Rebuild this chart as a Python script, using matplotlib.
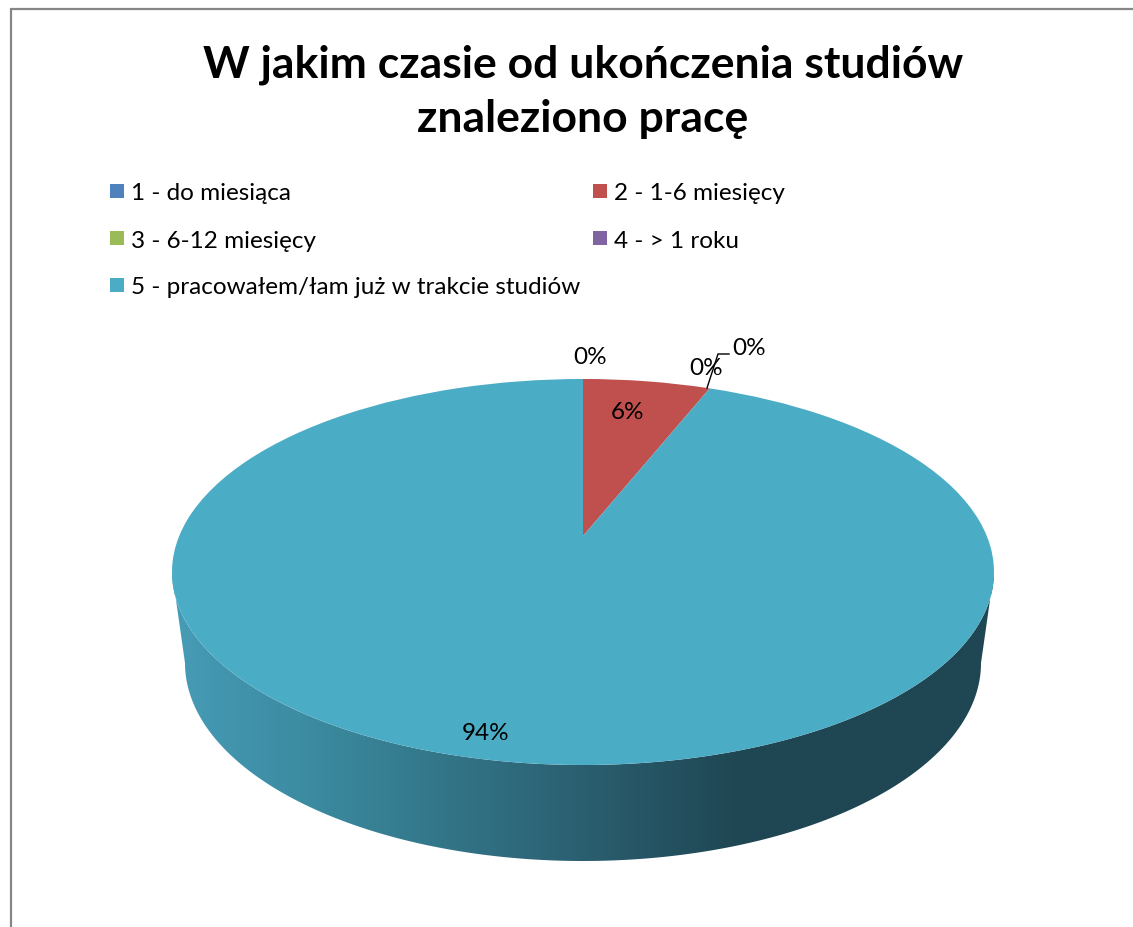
import numpy as np
import matplotlib
matplotlib.use("Agg")
import matplotlib.pyplot as plt
from matplotlib.colors import LinearSegmentedColormap
from matplotlib.patches import Polygon, Rectangle
from matplotlib.transforms import Transform

title = "W jakim czasie od ukończenia studiów\nznaleziono pracę"
categories = ["1 - do miesiąca", "2 - 1-6 miesięcy", "3 - 6-12 miesięcy",
              "4 - > 1 roku", "5 - pracowałem/łam już w trakcie studiów"]
values = [0, 6, 0, 0, 94]
colors = ["#4F81BD", "#C0504D", "#9BBB59", "#8064A2", "#4BACC6"]

plt.rcParams["font.family"] = ["Lato", "DejaVu Sans"]
W, H = 1133, 928
fig = plt.figure(figsize=(W / 100, H / 100), dpi=100, facecolor="white")
ax = fig.add_axes([0, 0, 1, 1])
ax.axis("off")

# perspective of the pie's top face
APEX_X, APEX_Y = 583.0, 537.0
PC = 0.1865
PA = 186.3
PD = 403.8


class Perspective(Transform):
    input_dims = output_dims = 2

    def transform_non_affine(self, xy):
        xy = np.asarray(xy, float)
        den = 1 + PC * xy[:, 1]
        return np.column_stack((APEX_X + PD * xy[:, 0] / den,
                                APEX_Y - PA * xy[:, 1] / den))


wedges, _ = ax.pie(values, colors=colors, startangle=90, counterclock=False,
                   radius=1, wedgeprops=dict(linewidth=0))
persp = Perspective() + ax.transData
for w in wedges:
    w.set_transform(persp)
    w.set_zorder(3)
ax.set_aspect("auto")
ax.set_xlim(0, W)
ax.set_ylim(H, 0)
ax.axis("off")

# side wall of the disc: gradient clipped to the rim band
theta = np.linspace(0, np.pi, 300)
top = np.column_stack((583 + 411 * np.cos(theta), 573 + 193 * np.sin(theta)))
bot = np.column_stack((583 + 398 * np.cos(theta), 664 + 198 * np.sin(theta)))
band = np.vstack((top, bot[::-1]))
stops = [(172, "#479CB6"), (260, "#3F90A8"), (300, "#3C8CA2"), (440, "#337689"),
         (590, "#2A5E6F"), (740, "#1F4653"), (994, "#1F4653")]
cmap = LinearSegmentedColormap.from_list(
    "side", [((x - 172) / (994 - 172), c) for x, c in stops])
im = ax.imshow(np.linspace(0, 1, 512)[None, :], extent=(172, 994, 870, 570),
               cmap=cmap, aspect="auto", interpolation="bilinear", zorder=2)
clip = Polygon(band, closed=True, transform=ax.transData, facecolor="none", edgecolor="none")
ax.add_patch(clip)
im.set_clip_path(clip)
ax.set_xlim(0, W)
ax.set_ylim(H, 0)

# chart frame
ax.plot([11, 11, W + 5], [H + 5, 10, 10], color="#868686", lw=1.6, zorder=5,
        solid_joinstyle="miter", clip_on=True)

# title
ax.text(583, 92, title, ha="center", va="center", fontsize=32, fontweight="bold",
        color="black", linespacing=1.41, zorder=6)

# legend
legend_pos = [(110, 192), (593, 192), (110, 239), (593, 239), (110, 286)]
for (lx, ly), name, c in zip(legend_pos, categories, colors):
    ax.add_patch(Rectangle((lx, ly - 7), 14, 14, facecolor=c, edgecolor="none", zorder=6))
    ax.text(lx + 21, ly + 2, name, ha="left", va="center", fontsize=17.5, color="black", zorder=6)

# data labels
label_pos = [(590, 356), (627, 411), (706, 367), (749, 347), (486, 732)]
for (tx, ty), v in zip(label_pos, values):
    ax.text(tx, ty + 2, f"{v}%", ha="center", va="center", fontsize=17.5, color="black", zorder=7)
ax.plot([707, 718, 729], [389, 355, 355], color="black", lw=1, zorder=6)

fig.savefig("out.png", dpi=100, facecolor="white")
